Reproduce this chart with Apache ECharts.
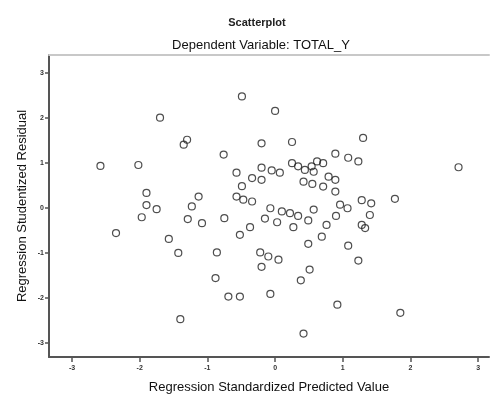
<!DOCTYPE html>
<html>
<head>
<meta charset="utf-8">
<script src="https://cdn.jsdelivr.net/npm/echarts@6/dist/echarts.min.js"></script>
<style>
  html, body { margin: 0; padding: 0; background: #fff; }
  #chart { width: 491px; height: 394px; }
</style>
</head>
<body>
<div id="chart"></div>
<script>
// standardized predicted value (x) and studentized residual (y)
const predicted = [
  -2.58, -2.02, -1.70, -1.30, -1.35, -0.76, -0.49, -0.20, 0.00, 0.25,
  1.30, -0.57, -0.20, -0.05, 0.07, 0.25, 0.34, 0.44, 0.54, 0.62,
  0.71, 0.57, 0.89, 1.08, 1.23, 2.71, -0.34, -0.20, -0.49, 0.42,
  0.55, 0.79, 0.89, 0.71, 0.89, -1.90, -1.13, -0.57, -0.47, -0.34,
  -1.90, -1.75, -1.23, -1.97, -1.29, -1.08, -0.75, -0.37, -0.52, -2.35,
  -1.57, -1.43, -0.86, -0.88, -0.69, -0.52, -1.40, -0.07, 0.10, 0.22,
  0.34, -0.15, 0.03, 0.27, 0.49, 0.57, 0.96, 1.07, 1.28, 1.42,
  1.77, 0.90, 1.40, 0.76, 1.28, 1.33, 0.69, 0.49, 1.08, -0.22,
  -0.10, 0.05, -0.20, 1.23, 0.51, 0.38, -0.07, 0.92, 1.85, 0.42
];
const residual = [
  0.93, 0.95, 2.00, 1.51, 1.40, 1.18, 2.47, 1.43, 2.15, 1.46,
  1.55, 0.78, 0.89, 0.83, 0.78, 0.99, 0.92, 0.84, 0.92, 1.03,
  0.99, 0.80, 1.20, 1.11, 1.03, 0.90, 0.66, 0.62, 0.48, 0.58,
  0.53, 0.69, 0.62, 0.47, 0.36, 0.33, 0.25, 0.25, 0.18, 0.14,
  0.06, -0.03, 0.03, -0.21, -0.25, -0.34, -0.23, -0.43, -0.60, -0.56,
  -0.69, -1.00, -0.99, -1.56, -1.97, -1.97, -2.47, -0.01, -0.08, -0.12,
  -0.18, -0.24, -0.32, -0.43, -0.28, -0.04, 0.07, -0.01, 0.17, 0.10,
  0.20, -0.18, -0.16, -0.38, -0.38, -0.45, -0.64, -0.80, -0.84, -0.99,
  -1.08, -1.15, -1.31, -1.17, -1.37, -1.61, -1.91, -2.15, -2.33, -2.79
];
const xTicks = [-3, -2, -1, 0, 1, 2, 3];
const yTicks = [-3, -2, -1, 0, 1, 2, 3];

const points = predicted.map((x, i) => [x, residual[i]]);

const chart = echarts.init(document.getElementById('chart'));
const font = 'Liberation Sans, Arial, sans-serif';
const axisColor = '#555';

chart.setOption({
  animation: false,
  textStyle: { fontFamily: font },
  title: [
    {
      text: 'Scatterplot',
      left: 252,
      textAlign: 'center',
      top: 12,
      textStyle: { fontSize: 11, fontWeight: 'bold', color: '#222', fontFamily: font }
    },
    {
      text: 'Dependent Variable: TOTAL_Y',
      left: 256,
      textAlign: 'center',
      top: 34,
      textStyle: { fontSize: 13, fontWeight: 'normal', color: '#111', fontFamily: font }
    }
  ],
  grid: { left: 49, right: 2, top: 55, bottom: 37, containLabel: false, outerBoundsMode: 'none' },
  xAxis: [
    {
      type: 'value',
      min: -3.34,
      max: 3.16,
      name: 'Regression Standardized Predicted Value',
      nameLocation: 'middle',
      nameGap: 24,
      nameMoveOverlap: false,
      nameTextStyle: { fontSize: 13, color: '#111' },
      axisLine: { show: true, onZero: false, lineStyle: { color: axisColor, width: 2 } },
      axisTick: { show: true, length: 5, customValues: xTicks, lineStyle: { color: axisColor, width: 1.5 } },
      axisLabel: { fontSize: 7, fontWeight: 'bold', color: '#333', margin: 8, customValues: xTicks },
      splitLine: { show: false }
    },
    {
      type: 'value',
      position: 'top',
      min: -3.34,
      max: 3.16,
      axisLine: { show: true, onZero: false, lineStyle: { color: '#c8c8c8', width: 2 } },
      axisTick: { show: false },
      axisLabel: { show: false },
      splitLine: { show: false }
    }
  ],
  yAxis: {
    type: 'value',
    min: -3.31,
    max: 3.39,
    name: 'Regression Studentized Residual',
    nameLocation: 'middle',
    nameGap: 20,
    nameMoveOverlap: false,
    nameTextStyle: { fontSize: 13, color: '#111' },
    axisLine: { show: true, onZero: false, lineStyle: { color: axisColor, width: 2 } },
    axisTick: { show: true, length: 4, customValues: yTicks, lineStyle: { color: axisColor, width: 1.5 } },
    axisLabel: { fontSize: 7, fontWeight: 'bold', color: '#333', margin: 5, customValues: yTicks },
    splitLine: { show: false }
  },
  series: [
    {
      type: 'scatter',
      xAxisIndex: 0,
      data: points,
      symbol: 'circle',
      symbolSize: 7,
      itemStyle: {
        color: 'rgba(255,255,255,0)',
        borderColor: '#222',
        borderWidth: 1.2
      }
    }
  ]
});
</script>
</body>
</html>
